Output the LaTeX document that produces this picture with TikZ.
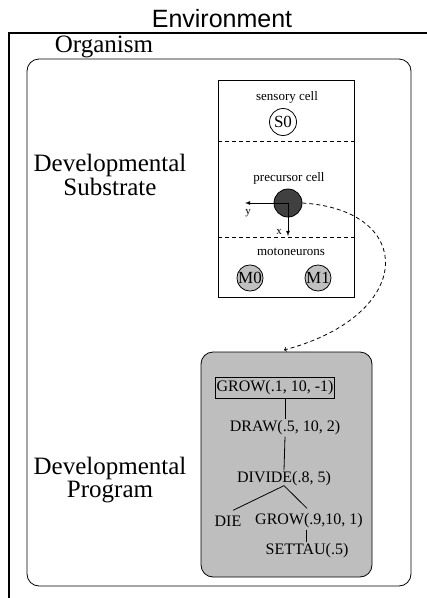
\documentclass[tikz,border=0pt]{standalone}
\usepackage{fontspec}
\setmainfont{Liberation Serif}
\newfontfamily\envfont{Liberation Sans}
\definecolor{progray}{RGB}{190,190,190}
\definecolor{cellgray}{RGB}{192,192,192}
\definecolor{darkcell}{RGB}{64,64,64}
\begin{document}
\begin{tikzpicture}[x=1pt, y=-1pt, line width=0.8pt,
    bigtext/.style={font=\fontsize{25}{20}\selectfont, align=center, inner sep=0pt},
    smalltext/.style={font=\fontsize{13}{15}\selectfont, inner sep=0pt},
    codetext/.style={font=\fontsize{16}{18}\selectfont, inner sep=1pt},
    cell/.style={draw, shape=circle, minimum size=25pt, inner sep=0pt, font=\fontsize{17}{18}\selectfont},
    dashline/.style={dash pattern=on 4pt off 3pt}]
    \useasboundingbox (0, 0) rectangle (427, 598);

    % environment and organism
    \node (env) at (222, 19) [bigtext, font=\envfont\fontsize{25}{20}\selectfont] {Environment};
    \draw[line width=1.2pt] (427, 33) -- (9, 33) -- (9, 598);
    \node (org) at (104, 47) [bigtext] {Organism};
    \draw[rounded corners=12pt] (27, 59) rectangle (411, 586);

    % developmental substrate
    \node (sublabel) at (110, 175) [bigtext] {Developmental\\Substrate};
    \draw (218, 80) rectangle (354, 297);
    \draw[dashline] (218, 141) -- (354, 141);
    \draw[dashline] (218, 237) -- (354, 237);

    \node (sens) at (287, 97) [smalltext] {sensory cell};
    \node (s0) at (283, 122) [cell, minimum size=27pt] {S0};
    \node (prec) at (289, 178) [smalltext] {precursor cell};
    \node (pc) at (288, 203) [cell, minimum size=28pt, fill=darkcell] {};
    \node (moto) at (291, 252) [smalltext] {motoneurons};
    \node (m0) at (250, 278) [cell, fill=cellgray] {M0};
    \node (m1) at (318, 278) [cell, fill=cellgray] {M1};

    \coordinate (yaxis) at (245, 203);
    \coordinate (xaxis) at (288, 236);
    \draw[-latex] (pc.center) -- (yaxis);
    \draw[-latex] (pc.center) -- (xaxis);
    \node (ylab) at (248, 213) [smalltext, font=\fontsize{11}{12}\selectfont] {y};
    \node (xlab) at (279, 232) [smalltext, font=\fontsize{11}{12}\selectfont] {x};

    % developmental program
    \node (proglabel) at (110, 480) [bigtext] {Developmental\\Program};
    \draw[fill=progray, rounded corners=12pt] (201, 352) rectangle (372, 577);
    \coordinate (progtop) at (284, 350);
    \draw[dashline, ->] (pc.east) .. controls (416, 210) and (416, 315) .. (progtop);

    \node (grow1) at (275, 388) [codetext, draw, minimum height=21pt] {GROW(.1, 10, -1)};
    \node (draw1) at (285, 428) [codetext] {DRAW(.5, 10, 2)};
    \node (divide1) at (284, 479) [codetext] {DIVIDE(.8, 5)};
    \node (die1) at (228, 521) [codetext] {DIE};
    \node (grow2) at (309, 521) [codetext] {GROW(.9,10, 1)};
    \node (settau1) at (307, 551) [codetext] {SETTAU(.5)};

    \draw (draw1.north) -- (draw1.north |- grow1.south);
    \draw (draw1.south) -- (divide1.north);
    \draw ([yshift=2pt]divide1.south) -- ([xshift=5pt, yshift=4pt]die1.north);
    \draw ([yshift=2pt]divide1.south) -- ([xshift=-2pt, yshift=4pt]grow2.north);
    \draw ([xshift=-3pt]grow2.south) -- ([xshift=-1pt]settau1.north);
\end{tikzpicture}
\end{document}
